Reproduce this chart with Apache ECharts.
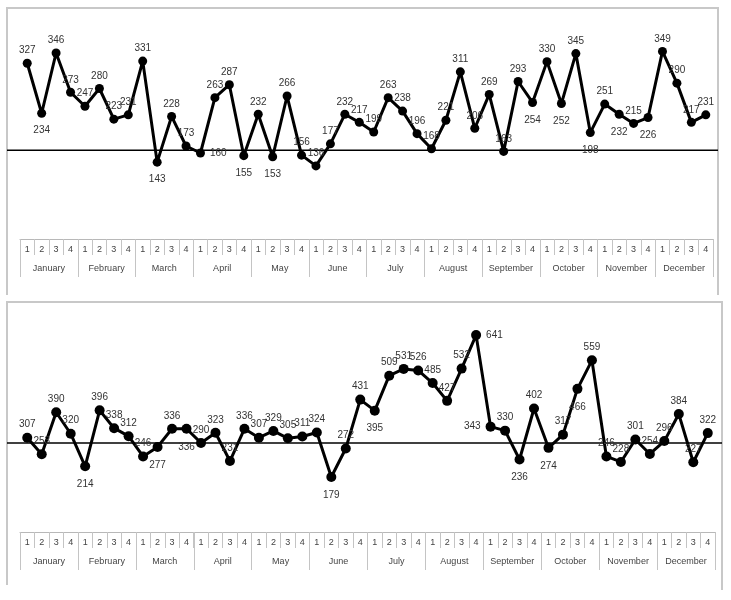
<!DOCTYPE html>
<html>
<head>
<meta charset="utf-8">
<script src="https://cdn.jsdelivr.net/npm/echarts@6/dist/echarts.min.js"></script>
<style>
  html, body { margin: 0; background: #fff; }
  #chart { width: 731px; height: 600px; }
</style>
</head>
<body>
<div id="chart"></div>
<script>
// categories
const months = ["January", "February", "March", "April", "May", "June",
  "July", "August", "September", "October", "November", "December"];
const weeks = ["1", "2", "3", "4"];

// upper chart
const topValues = [
  327, 234, 346, 273, 247, 280, 223, 231, 331, 143, 228, 173,
  160, 263, 287, 155, 232, 153, 266, 156, 136, 177, 232, 217,
  199, 263, 238, 196, 168, 221, 311, 206, 269, 163, 293, 254,
  330, 252, 345, 198, 251, 232, 215, 226, 349, 290, 217, 231
];
const topRef = 165;

// lower chart
const bottomValues = [
  307, 253, 390, 320, 214, 396, 338, 312, 246, 277, 336, 336,
  290, 323, 231, 336, 307, 329, 305, 311, 324, 179, 272, 431,
  395, 509, 531, 526, 485, 427, 532, 641, 343, 330, 236, 402,
  274, 317, 466, 559, 246, 228, 301, 254, 296, 384, 227, 322
];
const bottomRef = 290;

// which labels sit below / beside their point
const topBelow = [1, 9, 15, 17, 35, 37, 39, 41, 43];
const topRight = [12];
const bottomBelow = [4, 9, 11, 21, 24, 34, 36, 38];
const bottomRight = [31];
const bottomLeft = [32];

const weekCats = [];
months.forEach(m => weeks.forEach(w => weekCats.push(m + " " + w)));

const font = "Liberation Sans";

function labelled(values, below, right, left) {
  return values.map((v, i) => {
    let pos = "top", dist = 3;
    if (below.includes(i)) { pos = "bottom"; dist = 8; }
    else if (right.includes(i)) { pos = "right"; dist = 5; }
    else if (left.includes(i)) { pos = "left"; dist = 5; }
    return { value: v, label: { position: pos, distance: dist } };
  });
}

function xAxes(grid) {
  return [
    {
      type: "category", gridIndex: grid, data: weekCats, position: "bottom",
      axisLine: { show: true, lineStyle: { color: "#b8b8b8", width: 1 } },
      axisTick: { show: true, interval: 0, length: 16, lineStyle: { color: "#c4c4c4" } },
      axisLabel: {
        interval: 0, margin: 6, fontSize: 9, color: "#444", fontFamily: font,
        formatter: v => v.split(" ")[1]
      },
      splitLine: { show: false }
    },
    {
      type: "category", gridIndex: grid, data: months, position: "bottom",
      axisLine: { show: false },
      axisTick: { show: true, interval: 0, length: 38, lineStyle: { color: "#c4c4c4" } },
      axisLabel: { interval: 0, margin: 25, fontSize: 9, color: "#444", fontFamily: font },
      splitLine: { show: false }
    }
  ];
}

function series(values, grid, xi, size, below, right, left) {
  return {
    type: "line",
    xAxisIndex: xi, yAxisIndex: grid,
    data: labelled(values, below, right, left),
    symbol: "circle", symbolSize: size,
    itemStyle: { color: "#000" },
    lineStyle: { color: "#000", width: 3 },
    label: { show: true, fontSize: 10, color: "#333", fontFamily: font },
    animation: false
  };
}

const chart = echarts.init(document.getElementById("chart"));

const option = {
  animation: false,
  grid: [
    { left: 20, right: 18, top: 24, height: 215 },
    { left: 20, right: 16, top: 317, height: 215 }
  ],
  xAxis: [...xAxes(0), ...xAxes(1)],
  yAxis: [
    { type: "value", gridIndex: 0, min: 0, max: 400, show: false },
    { type: "value", gridIndex: 1, min: 0, max: 700, show: false }
  ],
  series: [
    series(topValues, 0, 0, 9, topBelow, topRight, []),
    series(bottomValues, 1, 2, 10, bottomBelow, bottomRight, bottomLeft)
  ]
};

chart.setOption(option);

// panel frames and the reference lines across each panel
const yTop = chart.convertToPixel({ yAxisIndex: 0 }, topRef);
const yBot = chart.convertToPixel({ yAxisIndex: 1 }, bottomRef);
const frame = { stroke: "#c8c8c8", lineWidth: 2 };

chart.setOption({
  graphic: [
    { type: "polyline", shape: { points: [[7, 295], [7, 8], [718, 8], [718, 295]] }, style: { ...frame, fill: null } },
    { type: "polyline", shape: { points: [[7, 585], [7, 302], [722, 302], [722, 590]] }, style: { ...frame, fill: null } },
    { type: "line", shape: { x1: 7, y1: yTop, x2: 718, y2: yTop }, style: { stroke: "#000", lineWidth: 1.5 }, z: 1 },
    { type: "line", shape: { x1: 7, y1: yBot, x2: 722, y2: yBot }, style: { stroke: "#000", lineWidth: 1.5 }, z: 1 }
  ]
});

window.addEventListener("resize", () => chart.resize());
</script>
</body>
</html>
